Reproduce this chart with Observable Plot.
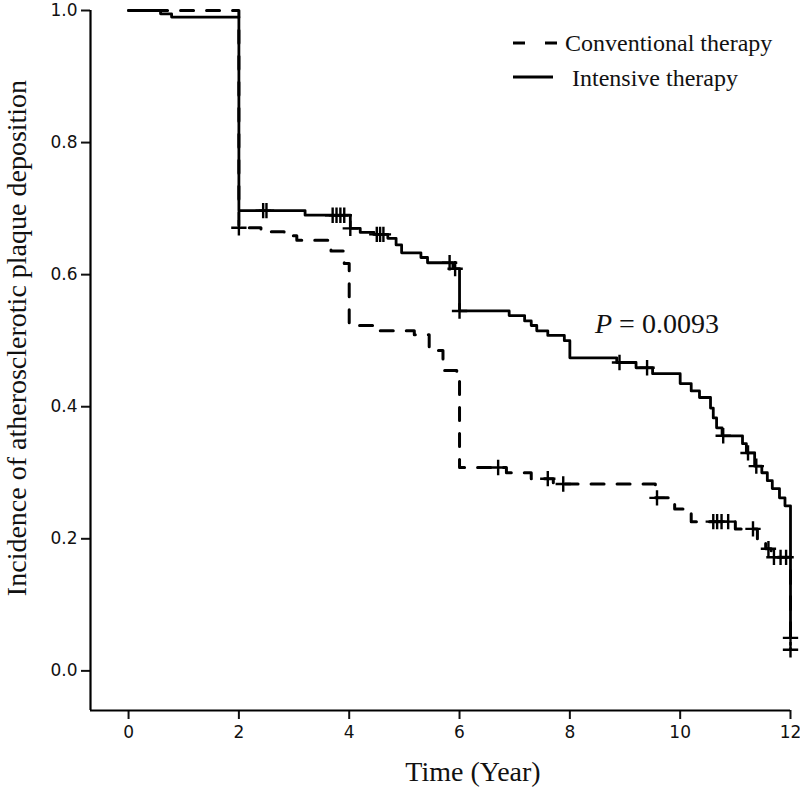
<!DOCTYPE html>
<html>
<head>
<meta charset="utf-8">
<script src="https://cdn.jsdelivr.net/npm/d3@7"></script>
<script src="https://cdn.jsdelivr.net/npm/@observablehq/plot@0.6"></script>
<style>
  body { margin: 0; background: #fff; }
  #chart { width: 800px; height: 787px; }
</style>
</head>
<body>
<div id="chart"></div>
<script>
// ---- Data ----
const groups = ["Conventional therapy", "Intensive therapy"];

const intensiveTime  = [0, 0.58, 0.78, 2.0, 3.2, 4.02, 4.2, 4.45, 4.7, 4.85, 4.95, 5.3, 5.42, 5.88, 6.0, 6.9, 7.18, 7.3, 7.4, 7.6, 7.9, 8.0, 8.85, 9.2, 9.5, 10.0, 10.2, 10.35, 10.55, 10.6, 10.66, 10.76, 11.13, 11.2, 11.35, 11.48, 11.58, 11.67, 11.8, 11.9, 12.0];
const intensiveValue = [1.0, 0.995, 0.99, 0.697, 0.690, 0.670, 0.664, 0.661, 0.655, 0.645, 0.633, 0.626, 0.618, 0.609, 0.545, 0.538, 0.530, 0.523, 0.515, 0.508, 0.500, 0.474, 0.467, 0.459, 0.450, 0.435, 0.424, 0.414, 0.398, 0.383, 0.368, 0.356, 0.344, 0.330, 0.310, 0.300, 0.288, 0.276, 0.262, 0.250, 0.050];

const conventionalTime  = [0, 2.0, 2.4, 2.82, 3.05, 3.67, 3.91, 4.0, 4.5, 5.18, 5.45, 5.7, 5.95, 6.0, 6.85, 7.3, 7.7, 9.55, 9.9, 10.2, 11.0, 11.4, 11.55, 11.65, 12.0];
const conventionalValue = [1.0, 0.671, 0.665, 0.659, 0.652, 0.636, 0.617, 0.523, 0.515, 0.509, 0.485, 0.455, 0.444, 0.308, 0.300, 0.291, 0.283, 0.262, 0.245, 0.226, 0.215, 0.200, 0.185, 0.172, 0.032];

const intensiveCensorTime  = [2.44, 2.50, 3.70, 3.77, 3.84, 3.91, 4.02, 4.50, 4.56, 4.62, 5.82, 5.92, 6.0, 8.9, 9.4, 10.78, 11.23, 11.38, 12.0];
const intensiveCensorValue = [0.697, 0.697, 0.690, 0.690, 0.690, 0.690, 0.670, 0.661, 0.661, 0.661, 0.618, 0.609, 0.545, 0.467, 0.459, 0.356, 0.330, 0.310, 0.050];

const conventionalCensorTime  = [2.0, 6.7, 7.6, 7.88, 9.58, 10.6, 10.67, 10.75, 10.87, 11.32, 11.6, 11.7, 11.82, 11.92, 12.0];
const conventionalCensorValue = [0.671, 0.308, 0.291, 0.283, 0.262, 0.226, 0.226, 0.226, 0.226, 0.215, 0.185, 0.172, 0.172, 0.172, 0.032];

const xTicks = [0, 2, 4, 6, 8, 10, 12];
const yTicks = [0, 0.2, 0.4, 0.6, 0.8, 1.0];
const xDomain = [-0.69, 12];
const yDomain = [-0.06, 1.0];
const xTitle = "Time (Year)";
const yTitle = "Incidence of atherosclerotic plaque deposition";
const pLabel = "P";
const pValue = " = 0.0093";

// ---- Tables ----
const conv = conventionalTime.map((t, i) => ({group: groups[0], t, s: conventionalValue[i]}));
const inte = intensiveTime.map((t, i) => ({group: groups[1], t, s: intensiveValue[i]}));
const censors = [
  ...conventionalCensorTime.map((t, i) => ({group: groups[0], t, s: conventionalCensorValue[i]})),
  ...intensiveCensorTime.map((t, i) => ({group: groups[1], t, s: intensiveCensorValue[i]}))
];

const tickFont = "DejaVu Sans, sans-serif";
const serif = "Liberation Serif, Times New Roman, serif";

const svg = Plot.plot({
  width: 800,
  height: 787,
  marginLeft: 90,
  marginRight: 10,
  marginTop: 10,
  marginBottom: 77,
  style: {background: "#fff", color: "#000", overflow: "visible"},
  x: {domain: xDomain},
  y: {domain: yDomain},
  marks: [
    Plot.axisX({ticks: xTicks, tickSize: 9, tickPadding: 6, fontSize: 17, fontFamily: tickFont, label: null, strokeWidth: 2, color: "#111"}),
    Plot.axisY({ticks: yTicks, tickFormat: d3.format(".1f"), tickSize: 9, tickPadding: 4, fontSize: 17, fontFamily: tickFont, label: null, strokeWidth: 2, color: "#111"}),
    Plot.ruleX([xDomain[0]], {y1: yDomain[0], y2: yDomain[1], stroke: "#000", strokeWidth: 2.2}),
    Plot.ruleY([yDomain[0]], {x1: xDomain[0], x2: xDomain[1], stroke: "#000", strokeWidth: 2.2}),
    Plot.line(conv, {x: "t", y: "s", curve: "step-after", stroke: "#000", strokeWidth: 3, strokeDasharray: "13,13"}),
    Plot.line(inte, {x: "t", y: "s", curve: "step-after", stroke: "#000", strokeWidth: 2.8}),
    Plot.dot(censors, {x: "t", y: "s", symbol: "plus", r: 5, stroke: "#000", strokeWidth: 2.4})
  ]
});

document.getElementById("chart").appendChild(svg);

// ---- Annotations: titles, legend, P value ----
const s = d3.select(svg);

s.append("text")
  .attr("x", 473).attr("y", 781)
  .attr("text-anchor", "middle")
  .attr("font-family", serif).attr("font-size", 28).attr("fill", "#111")
  .text(xTitle);

s.append("text")
  .attr("transform", "translate(26,338) rotate(-90)")
  .attr("text-anchor", "middle")
  .attr("font-family", serif).attr("font-size", 28).attr("fill", "#111")
  .text(yTitle);

const pText = s.append("text")
  .attr("x", 595).attr("y", 333)
  .attr("text-anchor", "start")
  .attr("font-family", serif).attr("font-size", 28).attr("fill", "#111");
pText.append("tspan").attr("font-style", "italic").text(pLabel);
pText.append("tspan").text(pValue);

const lg = s.append("g").attr("text-anchor", "start");
lg.append("line").attr("x1", 513).attr("x2", 557).attr("y1", 43).attr("y2", 43)
  .attr("stroke", "#000").attr("stroke-width", 3).attr("stroke-dasharray", "12,20");
lg.append("text").attr("x", 565).attr("y", 51).attr("text-anchor", "start")
  .attr("font-family", serif).attr("font-size", 24).attr("fill", "#111").text(groups[0]);
lg.append("line").attr("x1", 513).attr("x2", 553).attr("y1", 77).attr("y2", 77)
  .attr("stroke", "#000").attr("stroke-width", 3);
lg.append("text").attr("x", 572).attr("y", 86).attr("text-anchor", "start")
  .attr("font-family", serif).attr("font-size", 24).attr("fill", "#111").text(groups[1]);
</script>
</body>
</html>
